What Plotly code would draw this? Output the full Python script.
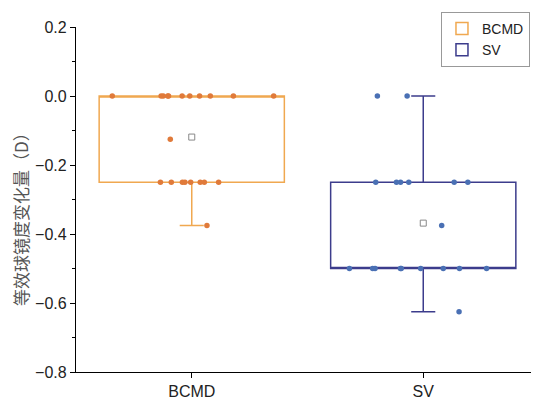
import numpy as np
import plotly.graph_objects as go

categories = ["BCMD", "SV"]

bcmd_values = [0.0] * 11 + [-0.25] * 8 + [-0.125, -0.375]
sv_values = [0.0] * 2 + [-0.25] * 6 + [-0.5] * 9 + [-0.375, -0.625]

y_title = "等效球镜度变化量（D）"

series = [bcmd_values, sv_values]
box_colors = ["#F0A850", "#3C3C8C"]
point_colors = ["#E07A3A", "#4A70B4"]

fig = go.Figure()
for cat, vals, bc, pc in zip(categories, series, box_colors, point_colors):
    fig.add_trace(go.Box(
        x=[cat] * len(vals), y=vals, name=cat,
        boxpoints="all", jitter=1.0, pointpos=0,
        fillcolor="rgba(255,255,255,0)",
        line=dict(color=bc, width=1.5),
        marker=dict(color=pc, size=5.5),
        whiskerwidth=0.13, width=0.8,
        showlegend=True,
    ))
    fig.add_trace(go.Scatter(
        x=[cat], y=[float(np.mean(vals))], mode="markers",
        marker=dict(symbol="square-open", size=6, color="#888888", line=dict(width=1)),
        showlegend=False, hoverinfo="skip",
    ))

# The page body adds an 8px offset, so the figure is sized to fill the window from there.
fig.update_layout(
    width=531, height=392,
    margin=dict(l=68, r=0, t=19, b=28, autoexpand=False),
    paper_bgcolor="white", plot_bgcolor="white",
    font=dict(family="Liberation Sans, Arial, sans-serif", size=16, color="#222222"),
    showlegend=True,
    legend=dict(
        xref="container", yref="container",
        x=0.983, y=0.99, xanchor="right", yanchor="top",
        bordercolor="#999999", borderwidth=1, bgcolor="white",
        font=dict(size=14, color="#222222"),
        tracegroupgap=0, itemwidth=30,
    ),
    boxmode="overlay",
    annotations=[dict(
        text=y_title, textangle=-90, showarrow=False,
        xref="paper", yref="paper", x=-0.121, y=0.455,
        xanchor="center", yanchor="middle", borderpad=0,
        font=dict(family="Noto Sans CJK SC", size=17, color="#555555"),
    )],
)
fig.update_xaxes(
    type="category", categoryorder="array", categoryarray=categories,
    range=[-0.5, 1.5], automargin=False,
    showline=True, linecolor="black", linewidth=1.2,
    ticks="outside", ticklen=5, tickcolor="black",
    showgrid=False, zeroline=False,
)
fig.update_yaxes(
    range=[-0.8, 0.2], dtick=0.2, tick0=0, tickformat=".1f", automargin=False,
    showline=True, linecolor="black", linewidth=1.2,
    ticks="outside", ticklen=5, tickcolor="black",
    minor=dict(ticks="outside", ticklen=3, dtick=0.1, tickcolor="black"),
    showgrid=False, zeroline=False,
)

fig.write_html("out.html")
